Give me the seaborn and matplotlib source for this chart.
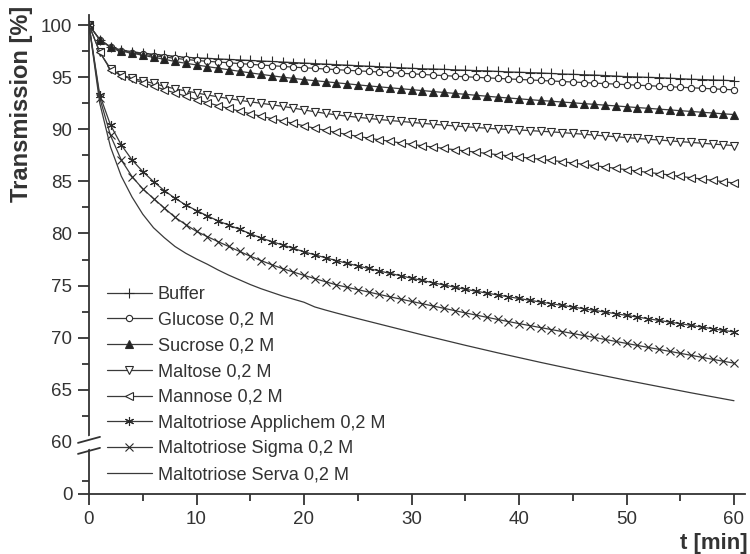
import numpy as np
import pandas as pd
import matplotlib
matplotlib.use("Agg")
import matplotlib.pyplot as plt
import seaborn as sns
from matplotlib.ticker import FixedLocator
from matplotlib.lines import Line2D
from matplotlib.patches import Polygon

t_min = list(range(0, 61))

buffer = [100.0, 98.6, 97.9, 97.6, 97.45, 97.3, 97.2, 97.1, 97.0, 96.9,
          96.85, 96.8, 96.75, 96.7, 96.65, 96.6, 96.55, 96.5, 96.45, 96.4,
          96.35, 96.3, 96.25, 96.2, 96.15, 96.1, 96.05, 96.0, 95.95, 95.9,
          95.85, 95.8, 95.78, 95.75, 95.7, 95.67, 95.63, 95.6, 95.55, 95.5,
          95.47, 95.43, 95.4, 95.35, 95.3, 95.27, 95.23, 95.2, 95.15, 95.1,
          95.05, 95.02, 94.98, 94.95, 94.9, 94.85, 94.8, 94.77, 94.73, 94.7,
          94.65]
glucose = [100.0, 98.6, 97.9, 97.55, 97.35, 97.2, 97.05, 96.95, 96.8, 96.7,
           96.6, 96.52, 96.45, 96.38, 96.3, 96.23, 96.16, 96.1, 96.03, 95.96,
           95.9, 95.84, 95.78, 95.72, 95.66, 95.6, 95.55, 95.49, 95.43, 95.37,
           95.32, 95.26, 95.2, 95.15, 95.09, 95.04, 94.98, 94.93, 94.88, 94.83,
           94.78, 94.73, 94.68, 94.63, 94.58, 94.53, 94.48, 94.43, 94.38, 94.33,
           94.28, 94.23, 94.18, 94.13, 94.08, 94.03, 93.98, 93.93, 93.88, 93.83,
           93.78]
sucrose = [100.0, 98.6, 97.85, 97.5, 97.3, 97.1, 96.9, 96.72, 96.5, 96.33,
           96.17, 96.01, 95.86, 95.71, 95.56, 95.41, 95.27, 95.13, 95.0, 94.88,
           94.76, 94.66, 94.56, 94.46, 94.36, 94.26, 94.16, 94.07, 93.98, 93.89,
           93.8, 93.71, 93.62, 93.53, 93.44, 93.35, 93.26, 93.17, 93.08, 93.0,
           92.92, 92.84, 92.76, 92.69, 92.61, 92.54, 92.46, 92.39, 92.31, 92.24,
           92.16, 92.08, 92.01, 91.93, 91.86, 91.78, 91.71, 91.63, 91.56, 91.48,
           91.41]
maltose = [100.0, 97.4, 95.8, 95.2, 94.9, 94.65, 94.4, 94.12, 93.88, 93.68,
           93.48, 93.29, 93.11, 92.94, 92.78, 92.63, 92.49, 92.35, 92.2, 92.03,
           91.85, 91.68, 91.52, 91.38, 91.26, 91.15, 91.04, 90.94, 90.84, 90.75,
           90.66, 90.57, 90.48, 90.4, 90.32, 90.24, 90.17, 90.1, 90.03, 89.98,
           89.93, 89.87, 89.81, 89.75, 89.68, 89.6, 89.52, 89.44, 89.36, 89.28,
           89.2, 89.12, 89.04, 88.97, 88.89, 88.81, 88.74, 88.66, 88.58, 88.51,
           88.43]
mannose = [100.0, 97.4, 95.7, 95.15, 94.8, 94.47, 94.14, 93.8, 93.48, 93.18,
           92.85, 92.55, 92.27, 92.0, 91.74, 91.49, 91.25, 91.02, 90.8, 90.56,
           90.33, 90.1, 89.89, 89.69, 89.5, 89.32, 89.15, 88.99, 88.84, 88.69,
           88.55, 88.42, 88.29, 88.16, 88.04, 87.92, 87.8, 87.68, 87.56, 87.45,
           87.34, 87.23, 87.12, 87.01, 86.89, 86.76, 86.63, 86.51, 86.38, 86.25,
           86.12, 85.99, 85.86, 85.74, 85.61, 85.48, 85.35, 85.22, 85.1, 84.97,
           84.84]
applichem = [100.0, 93.3, 90.4, 88.5, 87.06, 85.94, 84.98, 84.12, 83.38, 82.74,
             82.2, 81.69, 81.21, 80.8, 80.4, 79.98, 79.57, 79.22, 78.9, 78.57,
             78.24, 77.95, 77.67, 77.4, 77.14, 76.89, 76.64, 76.4, 76.17, 75.94,
             75.71, 75.49, 75.27, 75.06, 74.85, 74.65, 74.46, 74.28, 74.1, 73.93,
             73.76, 73.59, 73.42, 73.26, 73.1, 72.94, 72.78, 72.62, 72.46, 72.3,
             72.14, 71.98, 71.82, 71.66, 71.5, 71.34, 71.18, 71.02, 70.86, 70.7,
             70.55]
sigma = [100.0, 93.0, 89.4, 87.06, 85.46, 84.28, 83.35, 82.45, 81.55, 80.85,
         80.2, 79.7, 79.22, 78.75, 78.28, 77.82, 77.4, 77.0, 76.63, 76.3,
         75.98, 75.67, 75.37, 75.07, 74.84, 74.61, 74.38, 74.15, 73.92, 73.7,
         73.48, 73.26, 73.04, 72.82, 72.6, 72.38, 72.17, 71.96, 71.75, 71.55,
         71.35, 71.16, 70.97, 70.78, 70.59, 70.4, 70.21, 70.02, 69.83, 69.64,
         69.45, 69.26, 69.07, 68.88, 68.69, 68.5, 68.31, 68.12, 67.93, 67.74,
         67.56]
serva = [100.0, 92.5, 88.3, 85.5, 83.5, 81.85, 80.55, 79.6, 78.75, 78.1,
         77.55, 77.05, 76.5, 76.0, 75.55, 75.1, 74.7, 74.35, 74.0, 73.7,
         73.4, 72.95, 72.65, 72.37, 72.1, 71.83, 71.57, 71.31, 71.05, 70.79,
         70.53, 70.27, 70.02, 69.77, 69.52, 69.27, 69.03, 68.79, 68.55, 68.32,
         68.09, 67.86, 67.63, 67.41, 67.19, 66.97, 66.75, 66.54, 66.33, 66.12,
         65.91, 65.71, 65.51, 65.31, 65.11, 64.91, 64.71, 64.52, 64.33, 64.14,
         63.95]

labels = ["Buffer", "Glucose 0,2 M", "Sucrose 0,2 M", "Maltose 0,2 M",
          "Mannose 0,2 M", "Maltotriose Applichem 0,2 M",
          "Maltotriose Sigma 0,2 M", "Maltotriose Serva 0,2 M"]
series = [buffer, glucose, sucrose, maltose, mannose, applichem, sigma, serva]

# marker, facecolor, size
styles = [("+", "none", 6.5),
          ("o", "white", 4.5),
          ("^", "#222222", 5.5),
          ("v", "white", 5.5),
          ("<", "white", 5.5),
          ((6, 2, 0), "none", 6.5),
          ("x", "none", 5.5),
          ("", "none", 0)]

sns.set_style("ticks")
plt.rcParams["font.family"] = ["Liberation Sans", "DejaVu Sans"]
plt.rcParams["text.color"] = "#222222"

line_col = "#3a3a3a"

fig = plt.figure(figsize=(7.5, 5.54), dpi=100)
ax = fig.add_axes([89 / 750, 1 - 494 / 554, (744.75 - 89) / 750, (494 - 14.6) / 554])


# broken y axis: 0..60 squeezed into a short segment below 60
def fwd(y):
    y = np.asarray(y, dtype=float)
    return np.where(y >= 60, y, 55 + y / 12.0)


def inv(z):
    z = np.asarray(z, dtype=float)
    return np.where(z >= 60, z, (z - 55) * 12.0)


ax.set_yscale("function", functions=(fwd, inv))

for lab, vals, (mk, fc, ms) in zip(labels, series, styles):
    sns.lineplot(x=t_min, y=vals, ax=ax, label=lab, color=line_col,
                 linewidth=0.9, marker=mk, markersize=ms,
                 markerfacecolor=fc, markeredgecolor="#2a2a2a",
                 markeredgewidth=0.8)

ax.set_xlim(0, 61)
ax.set_ylim(0, 101)
ax.set_xlabel("")
ax.set_ylabel("")

ax.xaxis.set_major_locator(FixedLocator([0, 10, 20, 30, 40, 50, 60]))
ax.xaxis.set_minor_locator(FixedLocator([5, 15, 25, 35, 45, 55]))
ax.yaxis.set_major_locator(FixedLocator([0, 60, 65, 70, 75, 80, 85, 90, 95, 100]))
ax.yaxis.set_minor_locator(FixedLocator([15, 62.5, 67.5, 72.5, 77.5, 82.5, 87.5, 92.5, 97.5]))
ax.set_yticklabels(["0", "60", "65", "70", "75", "80", "85", "90", "95", "100"])
ax.set_xticklabels(["0", "10", "20", "30", "40", "50", "60"])

sns.despine(ax=ax)
for s in ["left", "bottom"]:
    ax.spines[s].set_linewidth(1.3)
    ax.spines[s].set_color("#333333")
ax.tick_params(which="major", direction="out", length=8, width=1.3,
               color="#333333", labelsize=13.5, labelcolor="#333333", pad=4)
ax.tick_params(which="minor", direction="out", length=5, width=1.3,
               color="#333333")
ax.yaxis.get_major_ticks()[1].tick1line.set_visible(False)

leg = ax.legend(loc="upper left", bbox_to_anchor=(107 / 750, 1 - 286 / 554),
                bbox_transform=fig.transFigure, frameon=False, fontsize=13.1,
                borderpad=0, borderaxespad=0, handlelength=2.45,
                handletextpad=0.33, labelspacing=0.48, numpoints=1)
for txt in leg.get_texts():
    txt.set_color("#333333")

# break marks on the y axis at 60
fig.canvas.draw()
px, py = ax.transData.transform((0, 60))
W, H = fig.bbox.width, fig.bbox.height


def to_fig(dx, dy):
    return ((px + dx) / W, (py + dy) / H)


gap = Polygon([to_fig(-10, 3), to_fig(11, 9), to_fig(11, -4), to_fig(-10, -10)],
              closed=True, facecolor="white", edgecolor="none",
              transform=fig.transFigure, zorder=5)
fig.add_artist(gap)
for off in (2, -9):
    fig.add_artist(Line2D([to_fig(-11, off - 3)[0], to_fig(11, off + 3)[0]],
                          [to_fig(-11, off - 3)[1], to_fig(11, off + 3)[1]],
                          transform=fig.transFigure, color="#333333",
                          linewidth=1.3, zorder=6))

fig.text(22 / 750, 1 - 6 / 554, "Transmission [%]", rotation=90,
         ha="center", va="top", fontsize=17, fontweight="bold", color="#333333")
fig.text(748 / 750, 1 - 543 / 554, "t [min]", ha="right", va="center",
         fontsize=16, fontweight="bold", color="#333333")

fig.savefig("out.png", dpi=100)
